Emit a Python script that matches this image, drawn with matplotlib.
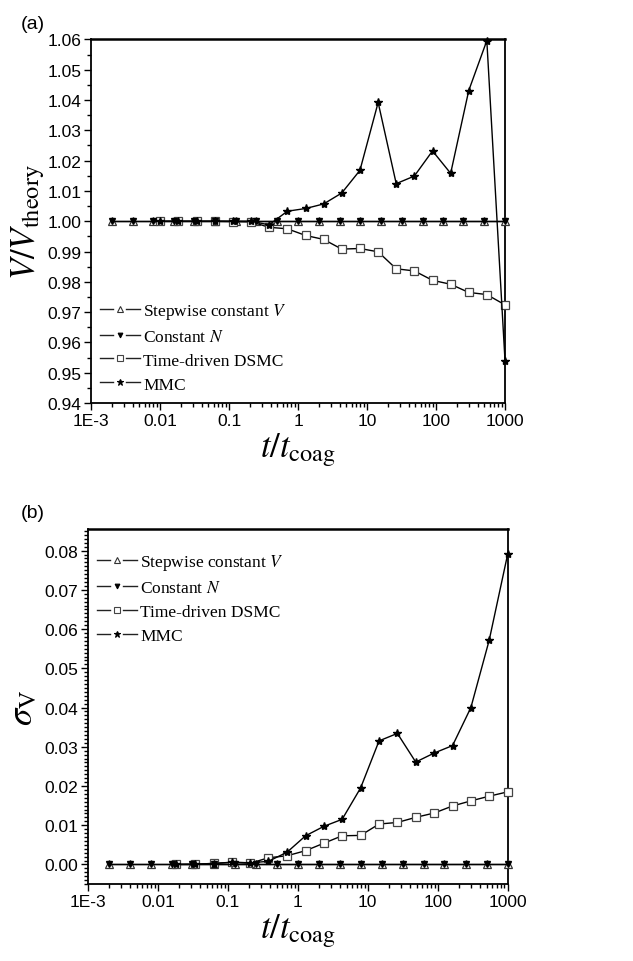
import matplotlib
matplotlib.use("Agg")
import matplotlib.pyplot as plt
from matplotlib.lines import Line2D
from matplotlib.legend_handler import HandlerBase
from matplotlib.ticker import FixedLocator, MultipleLocator, LogLocator, NullFormatter

plt.rcParams['font.family'] = ['Liberation Sans', 'DejaVu Sans']
plt.rcParams['mathtext.fontset'] = 'stix'

# x values (t / t_coag)
t_step = [0.002, 0.004, 0.008, 0.016, 0.031, 0.0625, 0.125, 0.25, 0.5, 1,
          2, 4, 8, 16, 32, 64, 125, 250, 500, 1000]
t_mc = [0.01, 0.0184, 0.034, 0.063, 0.115, 0.21, 0.38, 0.70, 1.29, 2.35,
        4.3, 7.9, 14.5, 26.5, 48.5, 89, 163, 298, 545, 1000]

# (a) V / V_theory
a_step = [1.0] * 20
a_constN = [1.0] * 20
a_dsmc = [1.000, 1.000, 1.000, 1.000, 0.9999, 0.9998, 0.998, 0.9975, 0.9953, 0.994,
          0.9908, 0.991, 0.9899, 0.9843, 0.9836, 0.9805, 0.9792, 0.9765, 0.9758, 0.9724]
a_mmc = [1.000, 1.000, 1.000, 1.000, 1.000, 1.000, 0.9988, 1.0033, 1.0042, 1.0057,
         1.0093, 1.0168, 1.0392, 1.0124, 1.0149, 1.0232, 1.0158, 1.0431, 1.0596, 0.954]

# (b) sigma_V
b_step = [0.0] * 20
b_constN = [0.0] * 20
t_mc_b = t_mc[1:]
b_dsmc = [0.0, 0.0, 0.0003, 0.0005, 0.0003, 0.0017, 0.0022, 0.0035, 0.0054,
          0.0073, 0.0074, 0.0103, 0.0107, 0.0120, 0.0131, 0.0149, 0.0162, 0.0174, 0.0185]
b_mmc = [0.0, 0.0001, 0.0002, 0.0006, 0.0004, 0.0008, 0.0031, 0.0073, 0.0097,
         0.0115, 0.0195, 0.0315, 0.0334, 0.0261, 0.0284, 0.0303, 0.0400, 0.0572, 0.0791]

labels = ['Stepwise constant $\\mathit{V}$', 'Constant $\\mathit{N}$',
          'Time-driven DSMC', 'MMC']


# legend handle like "—△—" (line broken around the marker)
class GapHandler(HandlerBase):
    def create_artists(self, legend, orig, xdescent, ydescent, width, height,
                       fontsize, trans):
        y = height / 2 - ydescent
        x0 = -xdescent
        g = 0.17 * width
        l1 = Line2D([x0, x0 + width / 2 - g], [y, y], color='#222222', lw=1)
        l2 = Line2D([x0 + width / 2 + g, x0 + width], [y, y], color='#222222', lw=1)
        mk = Line2D([x0 + width / 2], [y], ls='none', marker=orig.get_marker(),
                    ms=orig.get_markersize() * 0.75, mfc=orig.get_markerfacecolor(),
                    mec=orig.get_markeredgecolor(), mew=0.8)
        for a in (l1, l2, mk):
            a.set_transform(trans)
        return [l1, l2, mk]


fig = plt.figure(figsize=(6.33, 9.62), dpi=100)
ax1 = fig.add_axes([0.1438, 0.580, 0.654, 0.378])
ax2 = fig.add_axes([0.139, 0.080, 0.663, 0.369])


def draw(ax, x_s, s, n, x_m, d, m):
    ax.plot(x_s, s, color='black', lw=1, marker='^', ms=5.5, mfc='white',
            mec='#333333', mew=0.9, clip_on=False, label=labels[0], zorder=3)
    ax.plot(x_s, n, color='black', lw=1, marker='v', ms=4.5, mfc='black',
            mec='black', clip_on=False, label=labels[1], zorder=4)
    ax.plot(x_m, d, color='black', lw=1, marker='s', ms=6, mfc='white',
            mec='#444444', mew=0.9, clip_on=False, label=labels[2], zorder=3)
    ax.plot(x_m, m, color='black', lw=1, marker='*', ms=6, mfc='black',
            mec='black', clip_on=False, label=labels[3], zorder=5)
    ax.set_xscale('log')
    ax.set_xlim(1e-3, 1000)
    ax.xaxis.set_major_locator(FixedLocator([1e-3, 1e-2, 1e-1, 1, 10, 100, 1000]))
    ax.set_xticklabels(['1E-3', '0.01', '0.1', '1', '10', '100', '1000'])
    ax.xaxis.set_minor_locator(LogLocator(base=10, subs=range(2, 10), numticks=20))
    ax.xaxis.set_minor_formatter(NullFormatter())
    ax.tick_params(which='both', direction='out', top=False, right=False,
                   labelsize=12.5, width=1, pad=2)
    ax.tick_params(which='major', length=5)
    ax.tick_params(which='minor', length=3)
    for sp in ax.spines.values():
        sp.set_linewidth(1.3)
    ax.spines['top'].set_linewidth(1.8)
    ax.legend(frameon=False, prop={'family': 'Liberation Serif', 'size': 12.5},
              handlelength=2.3, handletextpad=0.2, labelspacing=0.45,
              borderaxespad=0.1, handler_map={Line2D: GapHandler()})


draw(ax1, t_step, a_step, a_constN, t_mc, a_dsmc, a_mmc)
ax1.set_ylim(0.94, 1.06)
ax1.yaxis.set_major_locator(MultipleLocator(0.01))
ax1.yaxis.set_minor_locator(MultipleLocator(0.005))
ax1.set_yticklabels([f'{v:.2f}' for v in ax1.get_yticks()])
ax1.legend_.set_loc('lower left')
ax1.legend_.set_bbox_to_anchor((0.0, 0.005))
ax1.set_ylabel('$V/V_{\\mathrm{theory}}$', fontsize=25, labelpad=0)
ax1.set_xlabel('$t/t_{\\mathrm{coag}}$', fontsize=25, labelpad=2)

draw(ax2, t_step, b_step, b_constN, t_mc_b, b_dsmc, b_mmc)
ax2.set_ylim(-0.005, 0.0855)
ax2.yaxis.set_major_locator(FixedLocator([0, 0.01, 0.02, 0.03, 0.04, 0.05, 0.06, 0.07, 0.08]))
ax2.set_yticklabels([f'{v:.2f}' for v in ax2.get_yticks()])
ax2.yaxis.set_minor_locator(MultipleLocator(0.001))
ax2.legend_.set_loc('upper left')
ax2.legend_.set_bbox_to_anchor((0.0, 0.96))
ax2.set_ylabel('$\\sigma_{\\mathrm{V}}$', fontsize=25, labelpad=4)
ax2.set_xlabel('$t/t_{\\mathrm{coag}}$', fontsize=25, labelpad=2)

fig.text(0.033, 0.975, '(a)', fontsize=14, va='center')
fig.text(0.033, 0.466, '(b)', fontsize=14, va='center')

fig.savefig('out.png', dpi=100)
